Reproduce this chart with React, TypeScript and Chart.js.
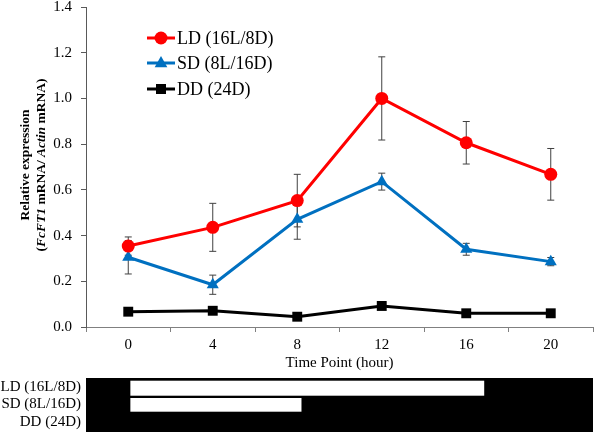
import React, { useEffect, useRef } from "react";
import { Chart, registerables } from "chart.js";

Chart.register(...registerables);

const categories = ["0", "4", "8", "12", "16", "20"];
const ldValues = [0.354, 0.436, 0.553, 1.0, 0.806, 0.668];
const ldErrors = [0.04, 0.105, 0.115, 0.182, 0.093, 0.113];
const sdValues = [0.305, 0.185, 0.471, 0.636, 0.34, 0.286];
const sdErrors = [0.073, 0.042, 0.087, 0.037, 0.026, 0.018];
const ddValues = [0.067, 0.071, 0.045, 0.092, 0.06, 0.06];
const ddErrors = [0.008, 0.008, 0.008, 0.008, 0.008, 0.008];
const seriesNames = ["LD (16L/8D)", "SD (8L/16D)", "DD (24D)"];
const seriesColors = ["#FF0000", "#0070C0", "#000000"];
const seriesMarkers = ["circle", "triangle", "rect"];
// light periods (hours) for each photoperiod row
const lightPeriods: number[][] = [[0.1, 16.85], [0.1, 8.2], []];
const yMin = 0;
const yMax = 1.4;
const yStep = 0.2;

const SERIF = "'Liberation Serif', 'Times New Roman', serif";

function drawMarker(ctx: CanvasRenderingContext2D, style: string, x: number, y: number, color: string) {
  ctx.save();
  ctx.fillStyle = color;
  ctx.beginPath();
  if (style === "circle") {
    ctx.arc(x, y, 6.5, 0, Math.PI * 2);
  } else if (style === "triangle") {
    const r = 7;
    ctx.moveTo(x, y - r);
    ctx.lineTo(x + r * 0.9, y + r * 0.6);
    ctx.lineTo(x - r * 0.9, y + r * 0.6);
    ctx.closePath();
  } else {
    ctx.rect(x - 5, y - 5, 10, 10);
  }
  ctx.fill();
  ctx.restore();
}

const errorBarPlugin = {
  id: "errorBars",
  beforeDatasetsDraw(chart: any) {
    const ctx = chart.ctx;
    const yScale = chart.scales.y;
    chart.data.datasets.forEach((ds: any, i: number) => {
      const meta = chart.getDatasetMeta(i);
      const errs: number[] = ds.errors;
      meta.data.forEach((pt: any, j: number) => {
        const v = ds.data[j];
        const e = errs[j];
        const yt = yScale.getPixelForValue(v + e);
        const yb = yScale.getPixelForValue(v - e);
        ctx.save();
        ctx.strokeStyle = "#404040";
        ctx.lineWidth = 1;
        ctx.beginPath();
        ctx.moveTo(pt.x, yt);
        ctx.lineTo(pt.x, yb);
        ctx.moveTo(pt.x - 3.5, yt);
        ctx.lineTo(pt.x + 3.5, yt);
        ctx.moveTo(pt.x - 3.5, yb);
        ctx.lineTo(pt.x + 3.5, yb);
        ctx.stroke();
        ctx.restore();
      });
    });
  },
};

const decorPlugin = {
  id: "decor",
  afterDraw(chart: any) {
    const ctx: CanvasRenderingContext2D = chart.ctx;
    const area = chart.chartArea;
    const xScale = chart.scales.x;

    // Legend
    const legendY = [38, 63, 89];
    seriesNames.forEach((name, i) => {
      const y = legendY[i];
      ctx.save();
      ctx.strokeStyle = seriesColors[i];
      ctx.lineWidth = 3;
      ctx.beginPath();
      ctx.moveTo(147, y);
      ctx.lineTo(175, y);
      ctx.stroke();
      drawMarker(ctx, seriesMarkers[i], 161, y, seriesColors[i]);
      ctx.fillStyle = "#000";
      ctx.font = `18px ${SERIF}`;
      ctx.textAlign = "left";
      ctx.textBaseline = "middle";
      ctx.fillText(name, 177, y + 1);
      ctx.restore();
    });

    // Y axis title (two lines, rotated, with italics)
    ctx.save();
    const cy = (area.top + area.bottom) / 2 - 2;
    ctx.translate(26, cy);
    ctx.rotate(-Math.PI / 2);
    ctx.fillStyle = "#000";
    ctx.textBaseline = "middle";
    ctx.textAlign = "center";
    ctx.font = `bold 13.5px ${SERIF}`;
    ctx.fillText("Relative expression", 0, 0);
    const parts: [string, boolean][] = [
      ["(", false],
      ["FcFT1", true],
      [" mRNA/ ", false],
      ["Actin", true],
      [" mRNA)", false],
    ];
    let total = 0;
    parts.forEach(([t, it]) => {
      ctx.font = `${it ? "italic " : ""}bold 13.5px ${SERIF}`;
      total += ctx.measureText(t).width;
    });
    let px = -total / 2;
    ctx.textAlign = "left";
    parts.forEach(([t, it]) => {
      ctx.font = `${it ? "italic " : ""}bold 13.5px ${SERIF}`;
      ctx.fillText(t, px, 16);
      px += ctx.measureText(t).width;
    });
    ctx.restore();

    // Photoperiod diagram
    const x0 = xScale.getPixelForValue(0);
    const perHour = (xScale.getPixelForValue(1) - x0) / 4;
    const boxTop = 378;
    const boxBottom = 432;
    ctx.save();
    ctx.fillStyle = "#000";
    ctx.fillRect(area.left, boxTop, area.right - area.left, boxBottom - boxTop);
    const rows = [
      [380.7, 395.7],
      [398, 411.7],
      [414, 430],
    ];
    ctx.fillStyle = "#fff";
    lightPeriods.forEach((p, i) => {
      if (p.length < 2) return;
      const xa = x0 + p[0] * perHour;
      const xb = x0 + p[1] * perHour;
      ctx.fillRect(xa, rows[i][0], xb - xa, rows[i][1] - rows[i][0]);
    });
    ctx.fillStyle = "#000";
    ctx.font = `15px ${SERIF}`;
    ctx.textAlign = "right";
    ctx.textBaseline = "middle";
    const labelY = [387, 404, 422];
    seriesNames.forEach((name, i) => {
      ctx.fillText(name, 81, labelY[i]);
    });
    ctx.restore();
  },
};

export default function App() {
  const ref = useRef<HTMLCanvasElement>(null);
  useEffect(() => {
    if (!ref.current) return;
    const font = { family: SERIF, size: 15 };
    const datasets = [ldValues, sdValues, ddValues].map((vals, i) => ({
      label: seriesNames[i],
      data: vals,
      errors: [ldErrors, sdErrors, ddErrors][i],
      borderColor: seriesColors[i],
      backgroundColor: seriesColors[i],
      borderWidth: 3,
      pointStyle: seriesMarkers[i],
      pointRadius: i === 0 ? 6.5 : 7,
      pointBorderWidth: 0,
      tension: 0,
    }));
    const chart = new Chart(ref.current, {
      type: "line",
      data: { labels: categories, datasets: datasets as any },
      options: {
        responsive: false,
        animation: false,
        devicePixelRatio: 1,
        layout: { padding: { top: 7, right: 2, bottom: 60, left: 0 } },
        plugins: { legend: { display: false }, tooltip: { enabled: false } },
        scales: {
          x: {
            type: "category",
            offset: true,
            grid: { offset: true, drawOnChartArea: false, tickLength: 5, color: "#808080" },
            border: { color: "#808080", width: 1 },
            ticks: { font, color: "#000", padding: 4, maxRotation: 0 },
            title: { display: true, text: "Time Point (hour)", font, color: "#000", padding: { top: 0, bottom: 0 } },
            afterFit: (s: any) => {
              s.height = 45;
              s.paddingLeft = 0;
              s.paddingRight = 0;
            },
          },
          y: {
            min: yMin,
            max: yMax,
            grid: { drawOnChartArea: false, tickLength: 5, color: "#595959" },
            border: { color: "#595959", width: 1 },
            ticks: {
              stepSize: yStep,
              font,
              color: "#000",
              padding: 9,
              callback: (v: any) => Number(v).toFixed(1),
            },
            afterFit: (s: any) => {
              s.width = 86;
              s.paddingTop = 0;
              s.paddingBottom = 0;
            },
          },
        },
      },
      plugins: [errorBarPlugin, decorPlugin],
    });
    return () => chart.destroy();
  }, []);
  return (
    <div style={{ position: "absolute", left: 0, top: 0, width: 600, height: 432, background: "#fff" }}>
      <canvas ref={ref} width={600} height={432} style={{ display: "block", width: 600, height: 432 }} />
    </div>
  );
}
